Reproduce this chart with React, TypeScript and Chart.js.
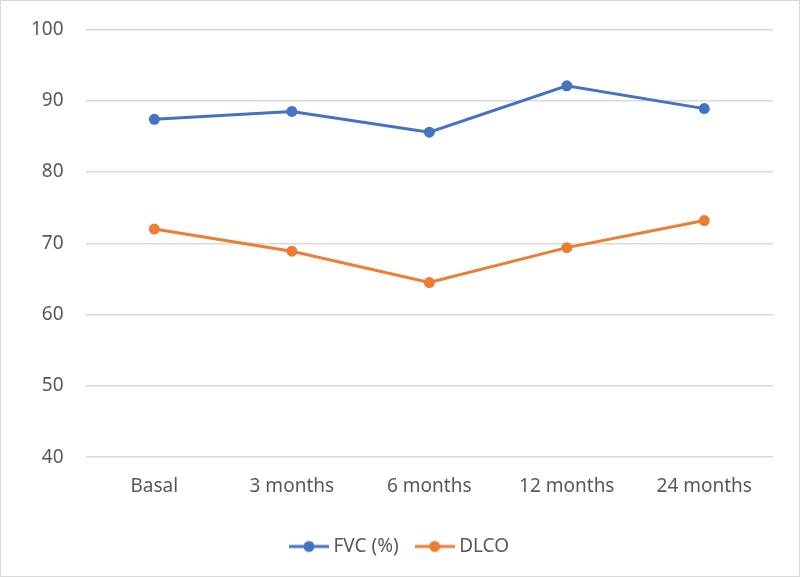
import React, { useEffect, useRef } from "react";
import { Chart, registerables } from "chart.js";

Chart.register(...registerables);

const categories = ["Basal", "3 months", "6 months", "12 months", "24 months"];
const fvcValues = [87.4, 88.5, 85.6, 92.1, 88.9];
const dlcoValues = [72.0, 68.9, 64.5, 69.4, 73.2];
const seriesNames = ["FVC (%)", "DLCO"];
const yTicks = [40, 50, 60, 70, 80, 90, 100];

const BLUE = "#4472C4";
const ORANGE = "#ED7D31";
const FONT = "'Noto Sans', 'Open Sans', sans-serif";
const FS = 19;
const LEGEND_PAD = 21;

function makeMarker(color: string): HTMLCanvasElement {
  const c = document.createElement("canvas");
  c.width = 40;
  c.height = 14;
  const ctx = c.getContext("2d")!;
  ctx.strokeStyle = color;
  ctx.lineWidth = 3;
  ctx.beginPath();
  ctx.moveTo(0, 7);
  ctx.lineTo(40, 7);
  ctx.stroke();
  ctx.fillStyle = color;
  ctx.beginPath();
  ctx.arc(20, 7, 5.5, 0, Math.PI * 2);
  ctx.fill();
  return c;
}

const centerLegend = {
  id: "centerLegend",
  afterLayout(chart: any) {
    const lg = chart.legend;
    if (lg && lg.lineWidths) {
      lg.lineWidths = lg.lineWidths.map((w: number) => w - LEGEND_PAD);
    }
  },
};

export default function App() {
  const ref = useRef<HTMLCanvasElement>(null);
  useEffect(() => {
    document.body.style.margin = "0";
    const markers = [makeMarker(BLUE), makeMarker(ORANGE)];
    const chart = new Chart(ref.current!, {
      type: "line",
      data: {
        labels: categories,
        datasets: [
          {
            label: seriesNames[0],
            data: fvcValues,
            borderColor: BLUE,
            backgroundColor: BLUE,
            borderWidth: 3,
            pointRadius: 5.5,
            pointBorderWidth: 0,
            pointBackgroundColor: BLUE,
            tension: 0,
          },
          {
            label: seriesNames[1],
            data: dlcoValues,
            borderColor: ORANGE,
            backgroundColor: ORANGE,
            borderWidth: 3,
            pointRadius: 5.5,
            pointBorderWidth: 0,
            pointBackgroundColor: ORANGE,
            tension: 0,
          },
        ],
      },
      plugins: [centerLegend],
      options: {
        animation: false,
        responsive: false,
        layout: { padding: { left: 8, right: 26, top: 13.5, bottom: 10 } },
        scales: {
          x: {
            offset: true,
            grid: { display: false, drawTicks: false },
            border: { display: false },
            ticks: { color: "#595959", font: { family: FONT, size: FS }, padding: 18 },
          },
          y: {
            min: 40,
            max: 100,
            afterBuildTicks: (axis: any) => {
              axis.ticks = yTicks.map((v) => ({ value: v }));
            },
            afterFit: (scale: any) => {
              scale.paddingTop = 28.5;
            },
            grid: { color: "#d9d9d9", lineWidth: 1.5, drawTicks: false },
            border: { display: false },
            ticks: { color: "#595959", font: { family: FONT, size: FS }, padding: 22 },
          },
        },
        plugins: {
          tooltip: { enabled: false },
          legend: {
            position: "bottom",
            labels: {
              color: "#595959",
              font: { family: FONT, size: FS },
              usePointStyle: true,
              pointStyleWidth: 30,
              padding: LEGEND_PAD,
              generateLabels: (ch: any) =>
                ch.data.datasets.map((ds: any, i: number) => ({
                  text: ds.label,
                  pointStyle: markers[i],
                  fillStyle: ds.borderColor,
                  strokeStyle: ds.borderColor,
                  fontColor: "#595959",
                  lineWidth: 0,
                  datasetIndex: i,
                  hidden: false,
                })),
            },
          },
        },
      },
    });
    return () => chart.destroy();
  }, []);
  return (
    <div
      style={{
        width: 798,
        height: 575,
        border: "1px solid #d9d9d9",
        background: "#fff",
      }}
    >
      <canvas ref={ref} width={798} height={575} style={{ display: "block" }} />
    </div>
  );
}
